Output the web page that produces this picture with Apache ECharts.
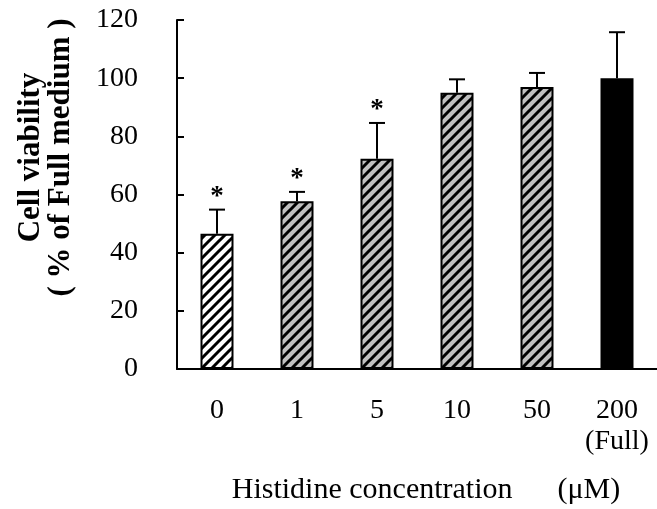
<!DOCTYPE html>
<html>
<head>
<meta charset="utf-8">
<script src="https://cdn.jsdelivr.net/npm/echarts@6/dist/echarts.min.js"></script>
<style>
  html, body { margin: 0; padding: 0; background: #fff; }
  #chart { width: 657px; height: 509px; }
</style>
</head>
<body>
<div id="chart"></div>
<script>
// data
var categories = ['0', '1', '5', '10', '50', '200\n(Full)'];
var viability = [46.5, 57.7, 72.3, 95, 97, 100];
var errorSD = [8.3, 3.2, 12.3, 4.6, 4.8, 15.8];
var marks = ['*', '*', '*', '', '', ''];
var yTicks = [0, 20, 40, 60, 80, 100, 120];

var font = '"Liberation Serif", "Times New Roman", serif';

// diagonal hatch pattern
function hatch(bg) {
    var c = document.createElement('canvas');
    c.width = 10; c.height = 10;
    var ctx = c.getContext('2d');
    ctx.fillStyle = bg;
    ctx.fillRect(0, 0, 10, 10);
    ctx.strokeStyle = '#000';
    ctx.lineWidth = 3;
    ctx.beginPath();
    ctx.moveTo(-2, 12); ctx.lineTo(12, -2);
    ctx.moveTo(-7, 7); ctx.lineTo(7, -7);
    ctx.moveTo(3, 17); ctx.lineTo(17, 3);
    ctx.stroke();
    return { image: c, repeat: 'repeat' };
}

var fills = [hatch('#fff'), hatch('#c0c0c0'), hatch('#c0c0c0'), hatch('#c0c0c0'), hatch('#c0c0c0'), '#000'];

var myChart = echarts.init(document.getElementById('chart'));

var option = {
    animation: false,
    textStyle: { fontFamily: font, color: '#000' },
    grid: { left: 177, right: 0, top: 20, bottom: 140, outerBoundsMode: 'none' },
    xAxis: {
        type: 'category',
        data: categories,
        name: 'Histidine concentration\u3000  (\u03bcM)',
        nameLocation: 'middle',
        nameGap: 106,
        nameTextStyle: { fontFamily: font, fontSize: 30, color: '#000', padding: [0, 0, 0, 18] },
        axisLine: { lineStyle: { color: '#000', width: 2 } },
        axisTick: { show: false },
        axisLabel: { interval: 0, fontFamily: font, fontSize: 28, color: '#000', margin: 26, lineHeight: 31 }
    },
    yAxis: {
        type: 'value',
        min: yTicks[0],
        max: yTicks[yTicks.length - 1],
        interval: 20,
        name: 'Cell viability\n( % of Full medium )',
        nameLocation: 'middle',
        nameRotate: 90,
        nameGap: 101,
        nameTextStyle: { fontFamily: font, fontSize: 31, fontWeight: 'bold', color: '#000', lineHeight: 30, padding: [0, 0, 0, 74] },
        splitLine: { show: false },
        axisLine: { show: true, lineStyle: { color: '#000', width: 2 } },
        axisTick: { show: true, inside: true, length: 7, lineStyle: { color: '#000', width: 2 } },
        axisLabel: { fontFamily: font, fontSize: 28, color: '#000', margin: 39 }
    },
    series: [
        {
            type: 'bar',
            barWidth: 33,
            data: viability.map(function (v, i) {
                return { value: v, itemStyle: { color: fills[i] } };
            }),
            itemStyle: { borderColor: '#000', borderWidth: 2 }
        },
        {
            type: 'custom',
            data: viability.map(function (v, i) { return [i, v, v + errorSD[i]]; }),
            renderItem: function (params, api) {
                var i = api.value(0);
                var base = api.coord([i, api.value(1)]);
                var top = api.coord([i, api.value(2)]);
                var cap = 8;
                var children = [
                    { type: 'line', shape: { x1: base[0], y1: base[1], x2: top[0], y2: top[1] }, style: { stroke: '#000', lineWidth: 2 } },
                    { type: 'line', shape: { x1: top[0] - cap, y1: top[1], x2: top[0] + cap, y2: top[1] }, style: { stroke: '#000', lineWidth: 2 } }
                ];
                if (marks[i]) {
                    children.push({
                        type: 'text',
                        style: { x: top[0], y: top[1] + 1, text: marks[i], align: 'center', verticalAlign: 'bottom', font: 'bold 27px ' + font, fill: '#000' }
                    });
                }
                return { type: 'group', children: children };
            },
            z: 3
        }
    ]
};

myChart.setOption(option);
</script>
</body>
</html>
